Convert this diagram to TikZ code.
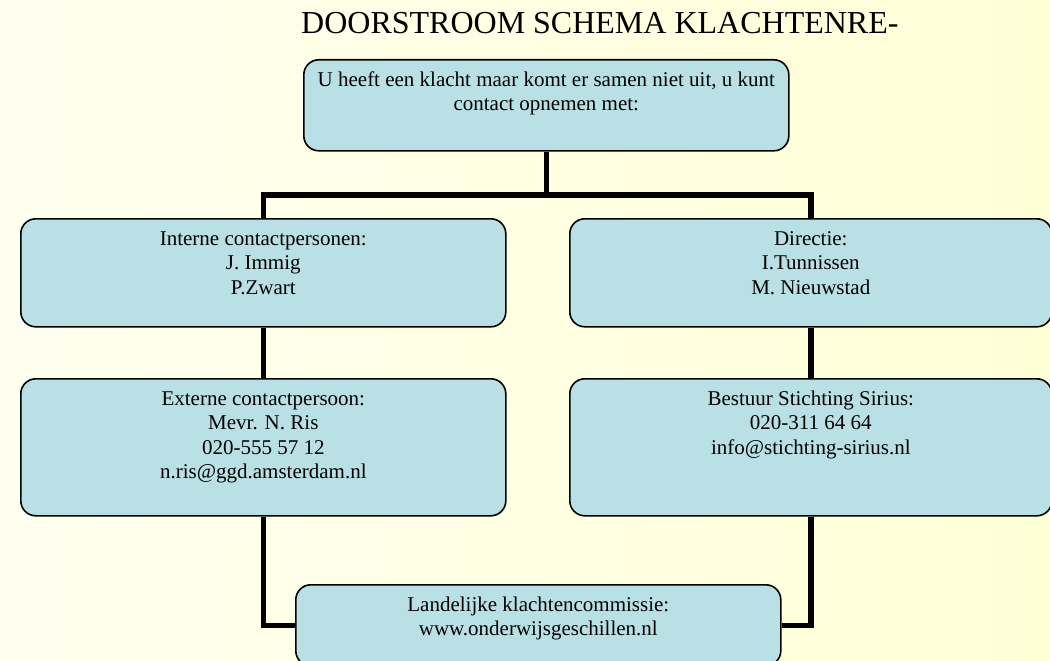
\documentclass[tikz,border=0pt]{standalone}
\usepackage{fontspec}
\setmainfont{Liberation Serif}
\usetikzlibrary{backgrounds}
\definecolor{bgA}{RGB}{255,255,240}
\definecolor{bgB}{RGB}{255,255,214}
\definecolor{boxfill}{RGB}{185,224,228}
\newcommand{\boxtext}[3]{\parbox[t][#2pt][t]{#1pt}{\centering\fontsize{21}{24.5}\selectfont\rule{0pt}{26.5pt}#3}}
\pgfdeclarelayer{bottom}
\pgfsetlayers{bottom,background,main}
\begin{document}
\begin{tikzpicture}[x=1pt,y=-1pt,
  flowbox/.style={draw=black, line width=1.6pt, fill=boxfill, rounded corners=15pt,
    inner sep=0pt, anchor=north west},
  link/.style={line width=5.5pt, draw=black}]
\useasboundingbox (0,0) rectangle (1050,661);
\begin{pgfonlayer}{bottom}
\shade[left color=bgA, right color=bgB] (0,0) rectangle (1050,661);
\end{pgfonlayer}
\node[anchor=base west, inner sep=0pt, font=\fontsize{32}{38}\selectfont] (title) at (301,34) {DOORSTROOM SCHEMA KLACHTENRE-};
% boxes
\node[flowbox] (top) at (303,59) {\boxtext{485}{91}{U heeft een klacht maar komt er samen niet uit, u kunt\\contact opnemen met:}};
\node[flowbox] (interne) at (20,218) {\boxtext{485}{108}{Interne contactpersonen:\\J. Immig\\P.Zwart}};
\node[flowbox] (directie) at (569,218) {\boxtext{482}{108}{Directie:\\I.Tunnissen\\M. Nieuwstad}};
\node[flowbox] (externe) at (20,378) {\boxtext{485}{137}{Externe contactpersoon:\\Mevr. N. Ris\\020-555 57 12\\n.ris@ggd.amsterdam.nl}};
\node[flowbox] (bestuur) at (569,378) {\boxtext{482}{137}{Bestuur Stichting Sirius:\\020-311 64 64\\info@stichting-sirius.nl}};
\node[flowbox] (land) at (295,584) {\boxtext{485}{81}{Landelijke klachtencommissie:\\www.onderwijsgeschillen.nl}};
% connectors
\coordinate (j) at (top.south |- 0,195);
\begin{pgfonlayer}{background}
\draw[link] (top.south) -- (j);
\draw[link] (interne.north) |- (j) -| (directie.north);
\draw[link] (interne.south) -- (externe.north);
\draw[link] (directie.south) -- (bestuur.north);
\draw[link] (externe.south) |- (land.west);
\draw[link] (bestuur.south) |- (land.east);
\end{pgfonlayer}
\end{tikzpicture}
\end{document}
